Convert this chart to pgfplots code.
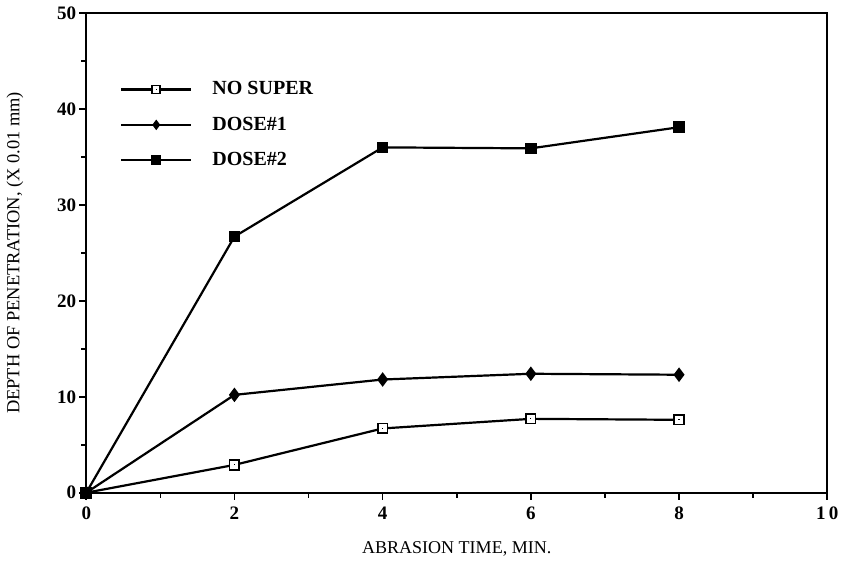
\documentclass[border=0pt]{standalone}
\usepackage{fontspec}
\setmainfont{Liberation Serif}
\usepackage{pgfplots}
\pgfplotsset{compat=1.18}

% open square with a small dot in the middle
\pgfdeclareplotmark{sqdot}{%
  \pgfpathrectangle{\pgfpoint{-\pgfplotmarksize}{-\pgfplotmarksize}}{\pgfpoint{2\pgfplotmarksize}{2\pgfplotmarksize}}%
  \pgfsetfillcolor{white}\pgfusepathqfillstroke
  \pgfpathrectangle{\pgfpoint{-0.3pt}{-0.3pt}}{\pgfpoint{0.6pt}{0.6pt}}%
  \pgfsetfillcolor{black}\pgfusepathqfill}

\begin{document}
\begin{tikzpicture}
\begin{axis}[
  width=370pt, height=239.5pt, scale only axis,
  xmin=0, xmax=10, ymin=0, ymax=50,
  xtick={0,2,4,6,8,10}, ytick={0,10,20,30,40,50},
  minor xtick={1,3,5,7,9}, minor ytick={5,15,25,35,45},
  tick pos=left, tick align=outside,
  major tick length=3.5pt, minor tick length=2.5pt,
  every tick/.style={black, line width=0.8pt},
  axis line style={line width=1.1pt},
  ticklabel style={font=\fontsize{9.5}{11}\selectfont\bfseries},
  yticklabel style={xshift=2pt},
  /pgf/number format/assume math mode=true,
  xticklabels={0,2,4,6,8,1\,0},
  xlabel={ABRASION TIME, MIN.},
  ylabel={DEPTH OF PENETRATION, (X 0.01 mm)},
  xlabel style={font=\fontsize{9}{11}\selectfont, yshift=-4pt},
  ylabel style={font=\fontsize{9.2}{11}\selectfont, yshift=10pt},
  legend style={draw=none, fill=none, at={(0.037,0.875)}, anchor=north west,
    font=\fontsize{10}{12}\selectfont\bfseries, row sep=5.5pt,
    legend cell align=left},
  legend style={/tikz/every odd column/.append style={column sep=8pt}},
  legend image code/.code={%
    \draw[#1, mark repeat=2, mark phase=2, mark size=2pt] plot coordinates {(0pt,0pt) (17.5pt,0pt) (35pt,0pt)};},
  every axis plot/.append style={black, line width=1.1pt, mark options={solid, line width=0.8pt}},
]
\addplot[mark=sqdot, mark size=2.4pt] coordinates {
  (0,0) (2,2.9) (4,6.7) (6,7.7) (8,7.6)
};
\addlegendentry{NO SUPER}
\addplot[mark=diamond*, mark size=3pt] coordinates {
  (0,0) (2,10.2) (4,11.8) (6,12.4) (8,12.3)
};
\addlegendentry{DOSE\#1}
\addplot[mark=square*, mark size=2.5pt] coordinates {
  (0,0) (2,26.7) (4,36.0) (6,35.9) (8,38.1)
};
\addlegendentry{DOSE\#2}
\end{axis}
\end{tikzpicture}
\end{document}
